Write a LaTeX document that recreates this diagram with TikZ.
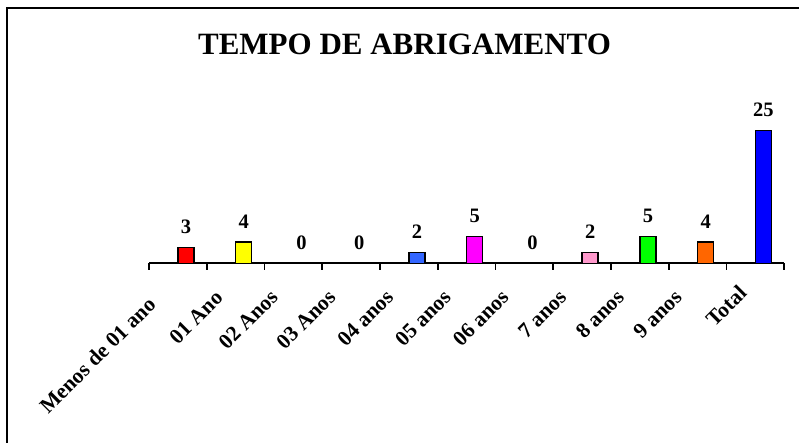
\documentclass[tikz,border=0pt]{standalone}
\usepackage{fontspec}
\setmainfont{Liberation Serif}
\begin{document}
\begin{tikzpicture}[x=1pt,y=-1pt,
  frameline/.style={line width=2.2pt, black},
  axisline/.style={line width=1.8pt, black},
  barbox/.style={draw=black, line width=1.3pt, minimum width=16pt, inner sep=0pt, outer sep=0pt, anchor=south},
  vallabel/.style={font=\fontsize{20.5}{20.5}\selectfont\bfseries, inner sep=0pt},
  catlabel/.style={font=\fontsize{21.5}{21.5}\selectfont\bfseries, rotate=45, anchor=base east, inner sep=0pt},
  titlelabel/.style={font=\fontsize{31}{31}\selectfont\bfseries, inner sep=0pt, anchor=base}
]
\definecolor{cRed}{HTML}{FF0000}
\definecolor{cYellow}{HTML}{FFFF00}
\definecolor{cLblue}{HTML}{3366FF}
\definecolor{cMagenta}{HTML}{FF00FF}
\definecolor{cPink}{HTML}{FF99CC}
\definecolor{cGreen}{HTML}{00FF00}
\definecolor{cOrange}{HTML}{FF6600}
\definecolor{cBlue}{HTML}{0000FF}
\useasboundingbox (0,0) rectangle (799,443);
% frame (top and left edges visible)
\draw[frameline] (6.7,443) -- (6.7,8.3) -- (799,8.3);
% title
\node[titlelabel] (title) at (404.5,54.3) {TEMPO DE ABRIGAMENTO};
% axis
\coordinate (axL) at (149,263.3);
\coordinate (axR) at (784.3,263.3);
\draw[axisline] (axL) -- (axR);
\foreach \k in {0,...,11}{
  \pgfmathsetmacro{\tx}{149+\k*57.75}
  \draw[axisline] (\tx,263.3) -- (\tx,269.5);
}
% bars and value labels
\foreach \i/\v/\c in {1/3/cRed,2/4/cYellow,3/0/none,4/0/none,5/2/cLblue,6/5/cMagenta,7/0/none,8/2/cPink,9/5/cGreen,10/4/cOrange,11/25/cBlue}{
  \pgfmathsetmacro{\bx}{149+(\i-0.5)*57.75+8}
  \pgfmathsetmacro{\bh}{\v*5.3}
  \pgfmathsetmacro{\ly}{263.3-\bh-20.5}
  \ifnum\v>0
    \node[barbox, fill=\c, minimum height=\bh pt] (bar\i) at (\bx,263.3) {};
  \fi
  \node[vallabel] (val\i) at (\bx,\ly) {\v};
}
% category labels
\node[catlabel] (cat1) at (157,306) {Menos de 01 ano};
\node[catlabel] (cat2) at (224,299) {01 Ano};
\node[catlabel] (cat3) at (279.2,298.5) {02 Anos};
\node[catlabel] (cat4) at (336.9,298.5) {03 Anos};
\node[catlabel] (cat5) at (394.6,298.5) {04 anos};
\node[catlabel] (cat6) at (452.3,298.5) {05 anos};
\node[catlabel] (cat7) at (510,298.5) {06 anos};
\node[catlabel] (cat8) at (567.7,298.5) {7 anos};
\node[catlabel] (cat9) at (625.4,298.5) {8 anos};
\node[catlabel] (cat10) at (683.1,298.5) {9 anos};
\node[catlabel] (cat11) at (748,294.5) {Total};
\end{tikzpicture}
\end{document}
